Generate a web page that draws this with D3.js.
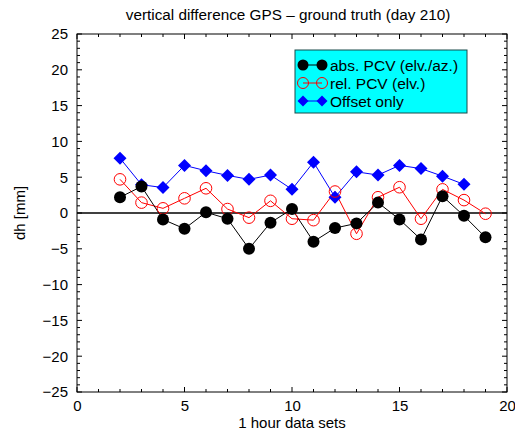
<!DOCTYPE html>
<html><head><meta charset="utf-8">
<script src="https://cdn.jsdelivr.net/npm/d3@7"></script>
<style>body{margin:0;background:#fff}svg{display:block;font-family:"Liberation Sans",Arial,sans-serif}</style>
</head><body><svg id="c" width="515" height="435"></svg>
<script>
const hours = [2,3,4,5,6,7,8,9,10,11,12,13,14,15,16,17,18,19];
const absPCV = [2.2,3.7,-0.9,-2.2,0.1,-0.8,-5.0,-1.35,0.55,-4.0,-2.1,-1.45,1.45,-0.9,-3.7,2.35,-0.4,-3.4];
const relPCV = [4.7,1.45,0.65,2.05,3.45,0.55,-0.65,1.7,-0.8,-1.0,3.0,-2.9,2.2,3.6,-0.8,3.3,1.8,-0.1];
const offsetHours = [2,3,4,5,6,7,8,9,10,11,12,13,14,15,16,17,18];
const offsetOnly = [7.65,3.95,3.55,6.65,5.9,5.25,4.7,5.3,3.3,7.1,2.2,5.75,5.3,6.65,6.2,5.15,4.0];
const xTicks = [0,5,10,15,20];
const yTicks = [-25,-20,-15,-10,-5,0,5,10,15,20,25];
const seriesNames = ["abs. PCV (elv./az.)","rel. PCV (elv.)","Offset only"];

const svg = d3.select("#c");
const L=77,R=507,T=34,B=392;
const x = d3.scaleLinear().domain([0,20]).range([L,R]);
const y = d3.scaleLinear().domain([-25,25]).range([B,T]);

svg.append("rect").attr("x",L).attr("y",T).attr("width",R-L).attr("height",B-T)
  .attr("fill","none").attr("stroke","#000").attr("stroke-width",1);

const minorX = d3.range(0,21,1), minorY = d3.range(-25,26,1);
const g = svg.append("g").attr("stroke","#000").attr("stroke-width",1);
minorX.forEach(v=>{
  const len = v%5===0?5:3;
  g.append("line").attr("x1",x(v)).attr("x2",x(v)).attr("y1",B).attr("y2",B-len);
  g.append("line").attr("x1",x(v)).attr("x2",x(v)).attr("y1",T).attr("y2",T+len);
});
minorY.forEach(v=>{
  const len = v%5===0?5:3;
  g.append("line").attr("y1",y(v)).attr("y2",y(v)).attr("x1",L).attr("x2",L+len);
  g.append("line").attr("y1",y(v)).attr("y2",y(v)).attr("x1",R).attr("x2",R-len);
});

const fmt = d=>String(d).replace("-","\u2212");
const ax = svg.append("g").attr("transform",`translate(0,${B})`)
  .call(d3.axisBottom(x).tickValues(xTicks).tickSize(0).tickPadding(8).tickFormat(fmt));
ax.select(".domain").remove();
ax.selectAll("text").attr("font-size",15).attr("font-family","Liberation Sans, Arial, sans-serif").attr("fill","#000");
const ay = svg.append("g").attr("transform",`translate(${L},0)`)
  .call(d3.axisLeft(y).tickValues(yTicks).tickSize(0).tickPadding(9).tickFormat(fmt));
ay.select(".domain").remove();
ay.selectAll("text").attr("font-size",15).attr("font-family","Liberation Sans, Arial, sans-serif").attr("fill","#000");

svg.append("line").attr("x1",L).attr("x2",R).attr("y1",y(0)).attr("y2",y(0))
  .attr("stroke","#000").attr("stroke-width",1.5);

svg.append("text").attr("x",288).attr("y",20).attr("text-anchor","middle")
  .attr("font-size",15.3).text("vertical difference GPS \u2013 ground truth (day 210)");
svg.append("text").attr("x",(L+R)/2).attr("y",428).attr("text-anchor","middle")
  .attr("font-size",15).text("1 hour data sets");
svg.append("text").attr("transform",`translate(25,${y(0)}) rotate(-90)`).attr("text-anchor","middle")
  .attr("font-size",15).text("dh [mm]");

const line = d3.line().x(d=>x(d[0])).y(d=>y(d[1]));
const dAbs = hours.map((h,i)=>[h,absPCV[i]]);
const dRel = hours.map((h,i)=>[h,relPCV[i]]);
const dOff = offsetHours.map((h,i)=>[h,offsetOnly[i]]);

svg.append("path").datum(dOff).attr("d",line).attr("fill","none").attr("stroke","#0000ff").attr("stroke-width",1);
svg.append("path").datum(dRel).attr("d",line).attr("fill","none").attr("stroke","#ff0000").attr("stroke-width",1);
svg.append("path").datum(dAbs).attr("d",line).attr("fill","none").attr("stroke","#000").attr("stroke-width",1);

const diamond = (cx,cy,r)=>`M${cx},${cy-r}L${cx+r},${cy}L${cx},${cy+r}L${cx-r},${cy}Z`;
svg.append("g").selectAll("path").data(dOff).join("path")
  .attr("d",d=>diamond(x(d[0]),y(d[1]),6.5)).attr("fill","#0000ff");
svg.append("g").selectAll("circle").data(dRel).join("circle")
  .attr("cx",d=>x(d[0])).attr("cy",d=>y(d[1])).attr("r",5.8)
  .attr("fill","none").attr("stroke","#ff0000").attr("stroke-width",1);
svg.append("g").selectAll("circle").data(dAbs).join("circle")
  .attr("cx",d=>x(d[0])).attr("cy",d=>y(d[1])).attr("r",6)
  .attr("fill","#000");

const lg = svg.append("g");
lg.append("rect").attr("x",295).attr("y",50).attr("width",172).attr("height",63)
  .attr("fill","#00ffff").attr("stroke","#1a4a4a").attr("stroke-width",1);
const rows=[65,83,101];
const colors=["#000","#ff0000","#0000ff"];
rows.forEach((ry,i)=>{
  lg.append("line").attr("x1",303).attr("x2",322).attr("y1",ry).attr("y2",ry).attr("stroke",colors[i]).attr("stroke-width",1);
  [303,322].forEach(cx=>{
    if(i===0) lg.append("circle").attr("cx",cx).attr("cy",ry).attr("r",5.5).attr("fill","#000");
    else if(i===1) lg.append("circle").attr("cx",cx).attr("cy",ry).attr("r",5.5).attr("fill","none").attr("stroke","#ff0000");
    else lg.append("path").attr("d",diamond(cx,ry,5.5)).attr("fill","#0000ff");
  });
  lg.append("text").attr("x",330).attr("y",ry+5.5).attr("font-size",15.5).text(seriesNames[i]);
});
</script></body></html>
